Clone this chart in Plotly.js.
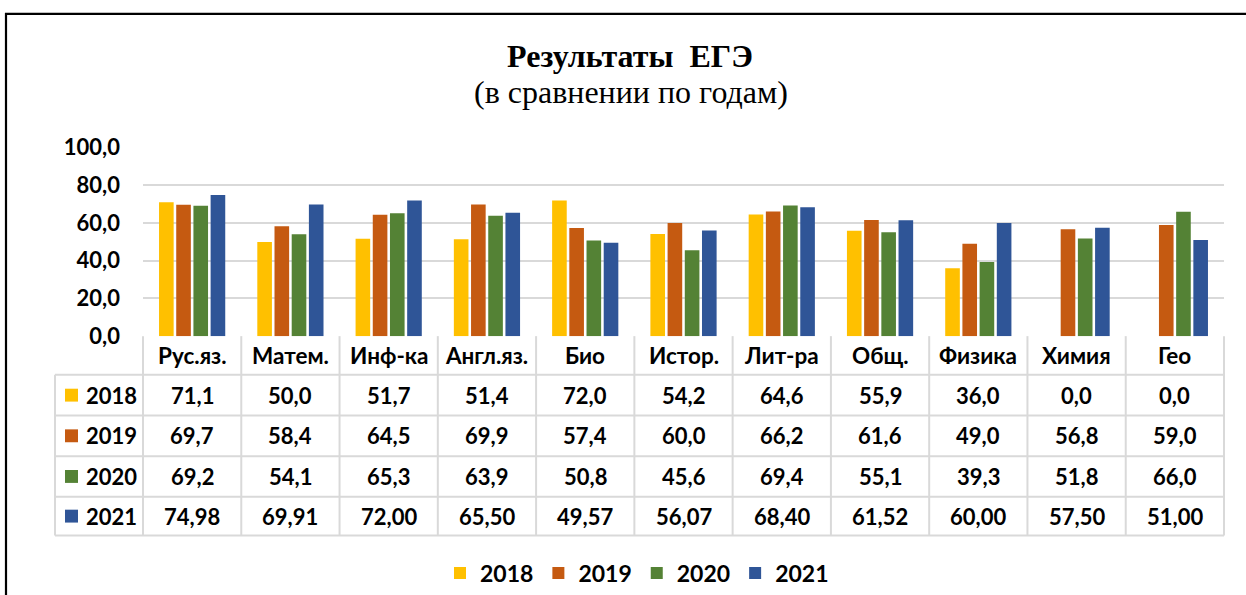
<!DOCTYPE html>
<html><head><meta charset="utf-8">
<script src="https://cdn.plot.ly/plotly-3.0.1.min.js"></script>
<style>html,body{margin:0;padding:0;background:#fff}</style>
</head><body><div id="chart" style="width:1246px;height:595px"></div>
<script>
const categories = ['Рус.яз.','Матем.','Инф-ка','Англ.яз.','Био','Истор.','Лит-ра','Общ.','Физика','Химия','Гео'];
const years = ['2018','2019','2020','2021'];
const y2018 = [71.1,50.0,51.7,51.4,72.0,54.2,64.6,55.9,36.0,0.0,0.0];
const y2019 = [69.7,58.4,64.5,69.9,57.4,60.0,66.2,61.6,49.0,56.8,59.0];
const y2020 = [69.2,54.1,65.3,63.9,50.8,45.6,69.4,55.1,39.3,51.8,66.0];
const y2021 = [74.98,69.91,72.00,65.50,49.57,56.07,68.40,61.52,60.00,57.50,51.00];
const series = [y2018,y2019,y2020,y2021];
const decimals = [1,1,1,2];
const colors = ['#FFC000','#C55A11','#548235','#2F5597'];
const yTicks = [0,20,40,60,80,100];

const W = 1246, H = 595;
const px = v => v / W;
const py = v => 1 - v / H;
const plotL = 143, plotR = 1224, plotT = 149, plotB = 339;
const tableLeft = 55;
const rowEdges = [339, 378, 419, 460, 501, 540];
const N = categories.length;
const colEdge = i => plotL + i * (plotR - plotL) / N;
const grid = '#D9D9D9';
const FONT = 'Lato, "Open Sans", sans-serif';
const SERIF = '"Liberation Serif", "Times New Roman", serif';
const fmt = (v, d) => v.toFixed(d).replace('.', ',');

const traces = series.map((s, k) => ({
  type: 'bar', name: years[k], x: categories, y: s,
  marker: {color: colors[k], line: {width: 0}},
  hoverinfo: 'skip'
}));

const shapes = [];
const annotations = [];
// outer frame
shapes.push({type:'rect', xref:'paper', yref:'paper', x0:px(6), x1:px(1260), y0:py(14), y1:py(620), line:{color:'#000', width:2.2}, layer:'below'});
// table lines
for (let i = 0; i <= N; i++) {
  shapes.push({type:'line', xref:'paper', yref:'paper', x0:px(colEdge(i)), x1:px(colEdge(i)), y0:py(rowEdges[0]), y1:py(rowEdges[5]), line:{color:grid, width:2}});
}
shapes.push({type:'line', xref:'paper', yref:'paper', x0:px(tableLeft), x1:px(tableLeft), y0:py(rowEdges[1]), y1:py(rowEdges[5]), line:{color:grid, width:2}});
for (let r = 1; r < rowEdges.length; r++) {
  shapes.push({type:'line', xref:'paper', yref:'paper', x0:px(tableLeft), x1:px(plotR), y0:py(rowEdges[r]), y1:py(rowEdges[r]), line:{color:grid, width:2}});
}
const rowMid = r => (rowEdges[r] + rowEdges[r+1]) / 2;
// header labels
categories.forEach((c, i) => {
  annotations.push({xref:'paper', yref:'paper', x:px((colEdge(i)+colEdge(i+1))/2), y:py(rowMid(0)), text:c, showarrow:false, xanchor:'center', yanchor:'middle', font:{family:FONT, size:22.5, color:'#000', weight:700}});
});
// rows
series.forEach((s, k) => {
  const ym = rowMid(k+1);
  shapes.push({type:'rect', xref:'paper', yref:'paper', x0:px(65), x1:px(78), y0:py(ym-6.5), y1:py(ym+6.5), fillcolor:colors[k], line:{width:0}});
  annotations.push({xref:'paper', yref:'paper', x:px(84), y:py(ym), text:years[k], showarrow:false, xanchor:'left', yanchor:'middle', font:{family:FONT, size:22, color:'#000', weight:700}});
  s.forEach((v, i) => {
    annotations.push({xref:'paper', yref:'paper', x:px((colEdge(i)+colEdge(i+1))/2), y:py(ym), text:fmt(v, decimals[k]), showarrow:false, xanchor:'center', yanchor:'middle', font:{family:FONT, size:22, color:'#000', weight:700}});
  });
});
// subtitle
annotations.push({xref:'paper', yref:'paper', x:px(631), y:py(93), text:'(в сравнении по годам)', showarrow:false, xanchor:'center', yanchor:'middle', font:{family:SERIF, size:32, color:'#000'}});

const layout = {
  width: W, height: H,
  margin: {l:0, r:0, t:0, b:0, pad:0},
  paper_bgcolor: '#fff', plot_bgcolor: '#fff',
  separators: ', ',
  title: {text:'Результаты\u00A0 ЕГЭ', x:px(630), xref:'paper', xanchor:'center', y:py(56), yref:'paper', yanchor:'middle',
          font:{family:SERIF, size:32, color:'#000', weight:700}},
  barmode: 'group', bargap: 0.3, bargroupgap: 0.15,
  xaxis: {domain:[px(plotL), px(plotR)], type:'category', showticklabels:false, ticks:'', showgrid:false, showline:false, zeroline:false, fixedrange:true},
  yaxis: {domain:[py(plotB), py(plotT)], range:[0,100], tickvals:yTicks, tickformat:'.1f', ticks:'', showline:false, zeroline:false,
          gridcolor:grid, gridwidth:2, automargin:false, ticklabelstandoff:22,
          tickfont:{family:FONT, size:22, color:'#000', weight:700}},
  showlegend: true,
  legend: {orientation:'h', x:px(637), xanchor:'center', y:py(578), yanchor:'middle', xref:'paper', yref:'paper',
           font:{family:FONT, size:23, color:'#000', weight:700}, traceorder:'normal', itemclick:false, bgcolor:'rgba(0,0,0,0)'},
  shapes: shapes,
  annotations: annotations
};
Plotly.newPlot('chart', traces, layout, {staticPlot:true, displayModeBar:false});
</script></body></html>
